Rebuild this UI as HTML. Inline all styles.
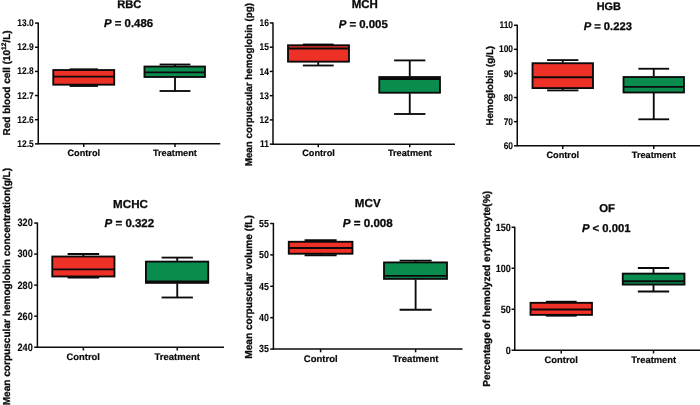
<!DOCTYPE html>
<html lang="en"><head><meta charset="utf-8"><title>Erythrocyte parameters: control vs treatment</title>
<style>
html,body{margin:0;padding:0;background:#fff;}
body{width:700px;height:405px;overflow:hidden;}
svg{display:block;}
svg text{text-rendering:geometricPrecision;font-family:"Liberation Sans",Arial,Helvetica,sans-serif;font-weight:bold;fill:#0a0a0a;stroke:#0a0a0a;stroke-width:0.3px;stroke-linejoin:round;}
svg line,svg rect{stroke:#0a0a0a;}
</style></head><body>
<svg width="700" height="405" viewBox="0 0 700 405">
<rect x="-1" y="-1" width="702" height="407" fill="#ffffff" stroke="none"/>
<g>
<line x1="38.25" y1="22.60" x2="38.25" y2="144.35" stroke-width="1.5" stroke="#363232"/>
<line x1="37.75" y1="143.85" x2="220.25" y2="143.85" stroke-width="1.5" stroke="#363232"/>
<line x1="35.05" y1="23.10" x2="38.25" y2="23.10" stroke-width="1.5" stroke="#363232"/>
<text transform="translate(33.75,26.19) scale(0.865,1)" font-size="9.76" text-anchor="end" style="stroke-width:0.12px">13.0</text>
<line x1="35.05" y1="47.25" x2="38.25" y2="47.25" stroke-width="1.5" stroke="#363232"/>
<text transform="translate(33.75,50.34) scale(0.865,1)" font-size="9.76" text-anchor="end" style="stroke-width:0.12px">12.9</text>
<line x1="35.05" y1="71.40" x2="38.25" y2="71.40" stroke-width="1.5" stroke="#363232"/>
<text transform="translate(33.75,74.49) scale(0.865,1)" font-size="9.76" text-anchor="end" style="stroke-width:0.12px">12.8</text>
<line x1="35.05" y1="95.55" x2="38.25" y2="95.55" stroke-width="1.5" stroke="#363232"/>
<text transform="translate(33.75,98.64) scale(0.865,1)" font-size="9.76" text-anchor="end" style="stroke-width:0.12px">12.7</text>
<line x1="35.05" y1="119.70" x2="38.25" y2="119.70" stroke-width="1.5" stroke="#363232"/>
<text transform="translate(33.75,122.79) scale(0.865,1)" font-size="9.76" text-anchor="end" style="stroke-width:0.12px">12.6</text>
<line x1="35.05" y1="143.85" x2="38.25" y2="143.85" stroke-width="1.5" stroke="#363232"/>
<text transform="translate(33.75,146.94) scale(0.865,1)" font-size="9.76" text-anchor="end" style="stroke-width:0.12px">12.5</text>
<line x1="83.75" y1="143.85" x2="83.75" y2="147.05" stroke-width="1.5" stroke="#363232"/>
<line x1="175.00" y1="143.85" x2="175.00" y2="147.05" stroke-width="1.5" stroke="#363232"/>
<line x1="83.75" y1="69.30" x2="83.75" y2="69.50" stroke-width="1.85"/>
<line x1="83.75" y1="85.20" x2="83.75" y2="86.00" stroke-width="1.85"/>
<line x1="69.60" y1="69.30" x2="97.90" y2="69.30" stroke-width="1.85"/>
<line x1="69.60" y1="86.00" x2="97.90" y2="86.00" stroke-width="1.85"/>
<rect x="53.27" y="70.03" width="60.95" height="14.65" fill="#ed3126" stroke-width="1.85"/>
<line x1="53.27" y1="76.60" x2="114.22" y2="76.60" stroke-width="1.85"/>
<line x1="175.00" y1="64.50" x2="175.00" y2="66.00" stroke-width="1.85"/>
<line x1="175.00" y1="77.50" x2="175.00" y2="91.00" stroke-width="1.85"/>
<line x1="159.60" y1="64.50" x2="190.40" y2="64.50" stroke-width="1.85"/>
<line x1="159.60" y1="91.00" x2="190.40" y2="91.00" stroke-width="1.85"/>
<rect x="144.47" y="66.53" width="60.50" height="10.45" fill="#0b8c4f" stroke-width="1.85"/>
<line x1="144.47" y1="72.40" x2="204.97" y2="72.40" stroke-width="1.85"/>
<text x="129.35" y="8.1" font-size="11.1" text-anchor="middle">RBC</text>
<text x="128.6" y="27.3" font-size="11.4" text-anchor="middle"><tspan font-style="italic">P</tspan> = 0.486</text>
<text x="83.75" y="156" font-size="9.20" text-anchor="middle" style="stroke-width:0.2px">Control</text>
<text x="174.9" y="156.25" font-size="9.20" text-anchor="middle" style="stroke-width:0.2px">Treatment</text>
<text transform="translate(9.6,82.9) rotate(-90)" font-size="10.0" text-anchor="middle">Red blood cell (10<tspan dy='-3.2' font-size='6.6'>12</tspan><tspan dy='3.2'>/L)</tspan></text>
</g>
<g>
<line x1="273.00" y1="22.45" x2="273.00" y2="144.65" stroke-width="1.5" stroke="#363232"/>
<line x1="272.50" y1="144.15" x2="455.00" y2="144.15" stroke-width="1.5" stroke="#363232"/>
<line x1="269.80" y1="22.95" x2="273.00" y2="22.95" stroke-width="1.5" stroke="#363232"/>
<text transform="translate(268.85,26.04) scale(0.865,1)" font-size="9.76" text-anchor="end" style="stroke-width:0.12px">16</text>
<line x1="269.80" y1="47.19" x2="273.00" y2="47.19" stroke-width="1.5" stroke="#363232"/>
<text transform="translate(268.85,50.28) scale(0.865,1)" font-size="9.76" text-anchor="end" style="stroke-width:0.12px">15</text>
<line x1="269.80" y1="71.43" x2="273.00" y2="71.43" stroke-width="1.5" stroke="#363232"/>
<text transform="translate(268.85,74.52) scale(0.865,1)" font-size="9.76" text-anchor="end" style="stroke-width:0.12px">14</text>
<line x1="269.80" y1="95.67" x2="273.00" y2="95.67" stroke-width="1.5" stroke="#363232"/>
<text transform="translate(268.85,98.76) scale(0.865,1)" font-size="9.76" text-anchor="end" style="stroke-width:0.12px">13</text>
<line x1="269.80" y1="119.91" x2="273.00" y2="119.91" stroke-width="1.5" stroke="#363232"/>
<text transform="translate(268.85,123.00) scale(0.865,1)" font-size="9.76" text-anchor="end" style="stroke-width:0.12px">12</text>
<line x1="269.80" y1="144.15" x2="273.00" y2="144.15" stroke-width="1.5" stroke="#363232"/>
<text transform="translate(268.85,147.24) scale(0.865,1)" font-size="9.76" text-anchor="end" style="stroke-width:0.12px">11</text>
<line x1="318.25" y1="144.15" x2="318.25" y2="147.35" stroke-width="1.5" stroke="#363232"/>
<line x1="409.75" y1="144.15" x2="409.75" y2="147.35" stroke-width="1.5" stroke="#363232"/>
<line x1="318.25" y1="44.50" x2="318.25" y2="44.75" stroke-width="1.85"/>
<line x1="318.25" y1="62.20" x2="318.25" y2="65.50" stroke-width="1.85"/>
<line x1="302.85" y1="44.50" x2="333.65" y2="44.50" stroke-width="1.85"/>
<line x1="302.85" y1="65.50" x2="333.65" y2="65.50" stroke-width="1.85"/>
<rect x="288.02" y="45.27" width="60.95" height="16.40" fill="#ed3126" stroke-width="1.85"/>
<line x1="288.02" y1="48.50" x2="348.98" y2="48.50" stroke-width="1.85"/>
<line x1="409.75" y1="60.40" x2="409.75" y2="76.50" stroke-width="1.85"/>
<line x1="409.75" y1="93.25" x2="409.75" y2="114.00" stroke-width="1.85"/>
<line x1="394.10" y1="60.40" x2="425.40" y2="60.40" stroke-width="1.85"/>
<line x1="394.10" y1="114.00" x2="425.40" y2="114.00" stroke-width="1.85"/>
<rect x="379.27" y="77.03" width="60.70" height="15.70" fill="#0b8c4f" stroke-width="1.85"/>
<line x1="379.27" y1="79.00" x2="439.98" y2="79.00" stroke-width="1.85"/>
<text x="364.75" y="7.7" font-size="11.5" text-anchor="middle">MCH</text>
<text x="363.2" y="27.7" font-size="11.4" text-anchor="middle"><tspan font-style="italic">P</tspan> = 0.005</text>
<text x="318.5" y="156.25" font-size="9.20" text-anchor="middle" style="stroke-width:0.2px">Control</text>
<text x="409.9" y="156.25" font-size="9.20" text-anchor="middle" style="stroke-width:0.2px">Treatment</text>
<text transform="translate(251.5,84.6) rotate(-90)" font-size="9.8" text-anchor="middle">Mean corpuscular hemoglobin (pg)</text>
</g>
<g>
<line x1="517.25" y1="24.75" x2="517.25" y2="146.25" stroke-width="1.5" stroke="#363232"/>
<line x1="516.75" y1="145.75" x2="700.00" y2="145.75" stroke-width="1.5" stroke="#363232"/>
<line x1="514.05" y1="25.25" x2="517.25" y2="25.25" stroke-width="1.5" stroke="#363232"/>
<text transform="translate(513.05,28.34) scale(0.865,1)" font-size="9.76" text-anchor="end" style="stroke-width:0.12px">110</text>
<line x1="514.05" y1="49.35" x2="517.25" y2="49.35" stroke-width="1.5" stroke="#363232"/>
<text transform="translate(513.05,52.44) scale(0.865,1)" font-size="9.76" text-anchor="end" style="stroke-width:0.12px">100</text>
<line x1="514.05" y1="73.45" x2="517.25" y2="73.45" stroke-width="1.5" stroke="#363232"/>
<text transform="translate(513.05,76.54) scale(0.865,1)" font-size="9.76" text-anchor="end" style="stroke-width:0.12px">90</text>
<line x1="514.05" y1="97.55" x2="517.25" y2="97.55" stroke-width="1.5" stroke="#363232"/>
<text transform="translate(513.05,100.64) scale(0.865,1)" font-size="9.76" text-anchor="end" style="stroke-width:0.12px">80</text>
<line x1="514.05" y1="121.65" x2="517.25" y2="121.65" stroke-width="1.5" stroke="#363232"/>
<text transform="translate(513.05,124.74) scale(0.865,1)" font-size="9.76" text-anchor="end" style="stroke-width:0.12px">70</text>
<line x1="514.05" y1="145.75" x2="517.25" y2="145.75" stroke-width="1.5" stroke="#363232"/>
<text transform="translate(513.05,148.84) scale(0.865,1)" font-size="9.76" text-anchor="end" style="stroke-width:0.12px">60</text>
<line x1="562.75" y1="145.75" x2="562.75" y2="148.95" stroke-width="1.5" stroke="#363232"/>
<line x1="653.75" y1="145.75" x2="653.75" y2="148.95" stroke-width="1.5" stroke="#363232"/>
<line x1="562.75" y1="60.10" x2="562.75" y2="62.70" stroke-width="1.85"/>
<line x1="562.75" y1="88.60" x2="562.75" y2="90.40" stroke-width="1.85"/>
<line x1="547.10" y1="60.10" x2="578.40" y2="60.10" stroke-width="1.85"/>
<line x1="547.10" y1="90.40" x2="578.40" y2="90.40" stroke-width="1.85"/>
<rect x="532.52" y="63.23" width="60.45" height="24.85" fill="#ed3126" stroke-width="1.85"/>
<line x1="532.52" y1="77.25" x2="592.98" y2="77.25" stroke-width="1.85"/>
<line x1="653.75" y1="68.75" x2="653.75" y2="76.50" stroke-width="1.85"/>
<line x1="653.75" y1="93.00" x2="653.75" y2="119.30" stroke-width="1.85"/>
<line x1="638.35" y1="68.75" x2="669.15" y2="68.75" stroke-width="1.85"/>
<line x1="638.35" y1="119.30" x2="669.15" y2="119.30" stroke-width="1.85"/>
<rect x="623.52" y="77.03" width="60.45" height="15.45" fill="#0b8c4f" stroke-width="1.85"/>
<line x1="623.52" y1="86.85" x2="683.98" y2="86.85" stroke-width="1.85"/>
<text x="608.75" y="10" font-size="10.9" text-anchor="middle">HGB</text>
<text x="607.75" y="29.6" font-size="11.2" text-anchor="middle"><tspan font-style="italic">P</tspan> = 0.223</text>
<text x="562.75" y="158" font-size="9.20" text-anchor="middle" style="stroke-width:0.2px">Control</text>
<text x="653.75" y="158" font-size="9.20" text-anchor="middle" style="stroke-width:0.2px">Treatment</text>
<text transform="translate(492.5,85.75) rotate(-90)" font-size="9.7" text-anchor="middle">Hemoglobin (g/L)</text>
</g>
<g>
<line x1="37.40" y1="222.55" x2="37.40" y2="347.75" stroke-width="1.5" stroke="#363232"/>
<line x1="36.90" y1="347.25" x2="224.00" y2="347.25" stroke-width="1.5" stroke="#363232"/>
<line x1="34.20" y1="223.05" x2="37.40" y2="223.05" stroke-width="1.5" stroke="#363232"/>
<text transform="translate(32.75,226.44) scale(0.865,1)" font-size="10.59" text-anchor="end" style="stroke-width:0.12px">320</text>
<line x1="34.20" y1="254.10" x2="37.40" y2="254.10" stroke-width="1.5" stroke="#363232"/>
<text transform="translate(32.75,257.49) scale(0.865,1)" font-size="10.59" text-anchor="end" style="stroke-width:0.12px">300</text>
<line x1="34.20" y1="285.15" x2="37.40" y2="285.15" stroke-width="1.5" stroke="#363232"/>
<text transform="translate(32.75,288.54) scale(0.865,1)" font-size="10.59" text-anchor="end" style="stroke-width:0.12px">280</text>
<line x1="34.20" y1="316.20" x2="37.40" y2="316.20" stroke-width="1.5" stroke="#363232"/>
<text transform="translate(32.75,319.59) scale(0.865,1)" font-size="10.59" text-anchor="end" style="stroke-width:0.12px">260</text>
<line x1="34.20" y1="347.25" x2="37.40" y2="347.25" stroke-width="1.5" stroke="#363232"/>
<text transform="translate(32.75,350.64) scale(0.865,1)" font-size="10.59" text-anchor="end" style="stroke-width:0.12px">240</text>
<line x1="83.38" y1="347.25" x2="83.38" y2="350.45" stroke-width="1.5" stroke="#363232"/>
<line x1="177.25" y1="347.25" x2="177.25" y2="350.45" stroke-width="1.5" stroke="#363232"/>
<line x1="83.38" y1="254.00" x2="83.38" y2="256.00" stroke-width="1.85"/>
<line x1="83.38" y1="277.00" x2="83.38" y2="277.50" stroke-width="1.85"/>
<line x1="67.60" y1="254.00" x2="99.15" y2="254.00" stroke-width="1.85"/>
<line x1="67.60" y1="277.50" x2="99.15" y2="277.50" stroke-width="1.85"/>
<rect x="52.27" y="256.52" width="62.20" height="19.95" fill="#ed3126" stroke-width="1.85"/>
<line x1="52.27" y1="269.40" x2="114.47" y2="269.40" stroke-width="1.85"/>
<line x1="177.25" y1="257.60" x2="177.25" y2="261.10" stroke-width="1.85"/>
<line x1="177.25" y1="283.40" x2="177.25" y2="297.50" stroke-width="1.85"/>
<line x1="161.60" y1="257.60" x2="192.90" y2="257.60" stroke-width="1.85"/>
<line x1="161.60" y1="297.50" x2="192.90" y2="297.50" stroke-width="1.85"/>
<rect x="145.93" y="261.62" width="62.30" height="21.25" fill="#0b8c4f" stroke-width="1.85"/>
<line x1="145.93" y1="281.50" x2="208.22" y2="281.50" stroke-width="1.85"/>
<text x="130.5" y="207.5" font-size="11.6" text-anchor="middle">MCHC</text>
<text x="129.4" y="227" font-size="11.5" text-anchor="middle"><tspan font-style="italic">P</tspan> = 0.322</text>
<text x="83.25" y="360" font-size="9.40" text-anchor="middle" style="stroke-width:0.2px">Control</text>
<text x="177.25" y="360" font-size="9.50" text-anchor="middle" style="stroke-width:0.2px">Treatment</text>
<text transform="translate(10.3,286.6) rotate(-90)" font-size="10.08" text-anchor="middle">Mean corpuscular hemoglobin concentration(g/L)</text>
</g>
<g>
<line x1="273.40" y1="223.00" x2="273.40" y2="349.60" stroke-width="1.5" stroke="#363232"/>
<line x1="272.90" y1="349.10" x2="462.50" y2="349.10" stroke-width="1.5" stroke="#363232"/>
<line x1="270.20" y1="223.50" x2="273.40" y2="223.50" stroke-width="1.5" stroke="#363232"/>
<text transform="translate(268.85,226.76) scale(0.865,1)" font-size="10.23" text-anchor="end" style="stroke-width:0.12px">55</text>
<line x1="270.20" y1="254.90" x2="273.40" y2="254.90" stroke-width="1.5" stroke="#363232"/>
<text transform="translate(268.85,258.16) scale(0.865,1)" font-size="10.23" text-anchor="end" style="stroke-width:0.12px">50</text>
<line x1="270.20" y1="286.30" x2="273.40" y2="286.30" stroke-width="1.5" stroke="#363232"/>
<text transform="translate(268.85,289.56) scale(0.865,1)" font-size="10.23" text-anchor="end" style="stroke-width:0.12px">45</text>
<line x1="270.20" y1="317.70" x2="273.40" y2="317.70" stroke-width="1.5" stroke="#363232"/>
<text transform="translate(268.85,320.96) scale(0.865,1)" font-size="10.23" text-anchor="end" style="stroke-width:0.12px">40</text>
<line x1="270.20" y1="349.10" x2="273.40" y2="349.10" stroke-width="1.5" stroke="#363232"/>
<text transform="translate(268.85,352.36) scale(0.865,1)" font-size="10.23" text-anchor="end" style="stroke-width:0.12px">35</text>
<line x1="320.62" y1="349.10" x2="320.62" y2="352.30" stroke-width="1.5" stroke="#363232"/>
<line x1="415.62" y1="349.10" x2="415.62" y2="352.30" stroke-width="1.5" stroke="#363232"/>
<line x1="320.62" y1="240.25" x2="320.62" y2="241.25" stroke-width="1.85"/>
<line x1="320.62" y1="254.25" x2="320.62" y2="255.25" stroke-width="1.85"/>
<line x1="304.60" y1="240.25" x2="336.65" y2="240.25" stroke-width="1.85"/>
<line x1="304.60" y1="255.25" x2="336.65" y2="255.25" stroke-width="1.85"/>
<rect x="288.77" y="241.78" width="63.70" height="11.95" fill="#ed3126" stroke-width="1.85"/>
<line x1="288.77" y1="248.00" x2="352.48" y2="248.00" stroke-width="1.85"/>
<line x1="415.62" y1="260.60" x2="415.62" y2="261.90" stroke-width="1.85"/>
<line x1="415.62" y1="279.40" x2="415.62" y2="309.75" stroke-width="1.85"/>
<line x1="399.60" y1="260.60" x2="431.65" y2="260.60" stroke-width="1.85"/>
<line x1="399.60" y1="309.75" x2="431.65" y2="309.75" stroke-width="1.85"/>
<rect x="384.02" y="262.42" width="62.95" height="16.45" fill="#0b8c4f" stroke-width="1.85"/>
<line x1="384.02" y1="275.90" x2="446.98" y2="275.90" stroke-width="1.85"/>
<text x="367.75" y="207.4" font-size="11.6" text-anchor="middle">MCV</text>
<text x="367.75" y="227.4" font-size="11.6" text-anchor="middle"><tspan font-style="italic">P</tspan> = 0.008</text>
<text x="320.75" y="361.6" font-size="9.50" text-anchor="middle" style="stroke-width:0.2px">Control</text>
<text x="415.6" y="361.75" font-size="9.60" text-anchor="middle" style="stroke-width:0.2px">Treatment</text>
<text transform="translate(251.6,286.9) rotate(-90)" font-size="10.1" text-anchor="middle">Mean corpuscular volume (fL)</text>
</g>
<g>
<line x1="514.75" y1="226.75" x2="514.75" y2="350.75" stroke-width="1.5" stroke="#363232"/>
<line x1="514.25" y1="350.25" x2="700.00" y2="350.25" stroke-width="1.5" stroke="#363232"/>
<line x1="511.55" y1="227.25" x2="514.75" y2="227.25" stroke-width="1.5" stroke="#363232"/>
<text transform="translate(510.85,230.60) scale(0.865,1)" font-size="10.47" text-anchor="end" style="stroke-width:0.12px">150</text>
<line x1="511.55" y1="268.25" x2="514.75" y2="268.25" stroke-width="1.5" stroke="#363232"/>
<text transform="translate(510.85,271.60) scale(0.865,1)" font-size="10.47" text-anchor="end" style="stroke-width:0.12px">100</text>
<line x1="511.55" y1="309.25" x2="514.75" y2="309.25" stroke-width="1.5" stroke="#363232"/>
<text transform="translate(510.85,312.60) scale(0.865,1)" font-size="10.47" text-anchor="end" style="stroke-width:0.12px">50</text>
<line x1="511.55" y1="350.25" x2="514.75" y2="350.25" stroke-width="1.5" stroke="#363232"/>
<text transform="translate(510.85,353.60) scale(0.865,1)" font-size="10.47" text-anchor="end" style="stroke-width:0.12px">0</text>
<line x1="561.25" y1="350.25" x2="561.25" y2="353.45" stroke-width="1.5" stroke="#363232"/>
<line x1="653.50" y1="350.25" x2="653.50" y2="353.45" stroke-width="1.5" stroke="#363232"/>
<line x1="561.25" y1="301.70" x2="561.25" y2="302.30" stroke-width="1.85"/>
<line x1="561.25" y1="315.40" x2="561.25" y2="315.70" stroke-width="1.85"/>
<line x1="545.85" y1="301.70" x2="576.65" y2="301.70" stroke-width="1.85"/>
<line x1="545.85" y1="315.70" x2="576.65" y2="315.70" stroke-width="1.85"/>
<rect x="530.52" y="302.82" width="61.45" height="12.05" fill="#ed3126" stroke-width="1.85"/>
<line x1="530.52" y1="309.50" x2="591.98" y2="309.50" stroke-width="1.85"/>
<line x1="653.50" y1="268.00" x2="653.50" y2="273.10" stroke-width="1.85"/>
<line x1="653.50" y1="285.10" x2="653.50" y2="291.50" stroke-width="1.85"/>
<line x1="637.85" y1="268.00" x2="669.15" y2="268.00" stroke-width="1.85"/>
<line x1="637.85" y1="291.50" x2="669.15" y2="291.50" stroke-width="1.85"/>
<rect x="622.77" y="273.62" width="61.70" height="10.95" fill="#0b8c4f" stroke-width="1.85"/>
<line x1="622.77" y1="281.25" x2="684.48" y2="281.25" stroke-width="1.85"/>
<text x="607.1" y="212" font-size="11.4" text-anchor="middle">OF</text>
<text x="606.25" y="231.75" font-size="11.3" text-anchor="middle"><tspan font-style="italic">P</tspan> &lt; 0.001</text>
<text x="561.25" y="362.75" font-size="9.40" text-anchor="middle" style="stroke-width:0.2px">Control</text>
<text x="653.75" y="362.5" font-size="9.40" text-anchor="middle" style="stroke-width:0.2px">Treatment</text>
<text transform="translate(489.5,288.9) rotate(-90)" font-size="10.14" text-anchor="middle">Percentage of hemolyzed erythrocyte(%)</text>
</g>
</svg>
</body></html>
